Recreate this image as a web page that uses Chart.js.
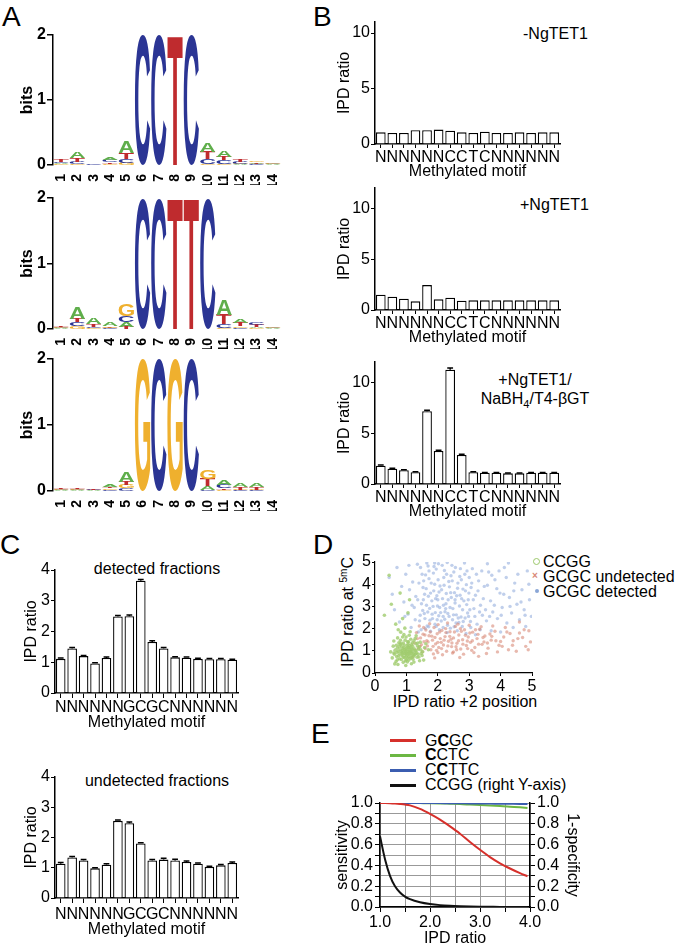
<!DOCTYPE html>
<html lang="en">
<head>
<meta charset="UTF-8" />
<title>IPD ratio figure</title>
<script src="https://cdn.jsdelivr.net/npm/chart.js@4"></script>
<style>
  body { margin: 0; background: #fff; font-family: "Liberation Sans", Arial, sans-serif; }
  #fig { position: relative; width: 680px; height: 946px; overflow: hidden; }
  canvas { position: absolute; }
  .t { position: absolute; font-size: 16px; line-height: 16px; white-space: nowrap; color: #000; }
  .lab { position: absolute; font-size: 28px; line-height: 28px; }
  .c { transform: translate(-50%, -50%); }
  .sw { position: absolute; height: 3px; width: 26px; }
</style>
</head>
<body>
<div id="fig">
  <!-- panel letters -->
  <div class="lab" style="left:2px;top:3px">A</div>
  <div class="lab" style="left:313px;top:3px">B</div>
  <div class="lab" style="left:0px;top:531px">C</div>
  <div class="lab" style="left:313px;top:531px">D</div>
  <div class="lab" style="left:311px;top:720px">E</div>

  <!-- B annotations -->
  <div class="t" style="left:523px;top:26px">-NgTET1</div>
  <div class="t" style="left:520px;top:197px">+NgTET1</div>
  <div class="t" style="left:475px;top:370px;width:120px;text-align:center;line-height:19px">+NgTET1/<br>NaBH<span style="font-size:11px;position:relative;top:4px">4</span>/T4-βGT</div>

  <!-- C titles -->
  <div class="t" style="left:57px;top:561px;width:200px;text-align:center">detected fractions</div>
  <div class="t" style="left:57px;top:773px;width:200px;text-align:center">undetected fractions</div>

  <!-- D titles and legend -->
  <div class="t c" style="left:349px;top:612px;transform:translate(-50%,-50%) rotate(-90deg)">IPD ratio at <span style="font-size:10px;position:relative;top:-6px">5m</span>C</div>
  <div class="t c" style="left:465px;top:702px">IPD ratio +2 position</div>
  <div style="position:absolute;left:533px;top:558px;width:5px;height:5px;border:1.5px solid #9cc86a;border-radius:50%"></div>
  <div style="position:absolute;left:532px;top:570px;font-size:10px;line-height:12px;color:#d98876;font-weight:bold">×</div>
  <div style="position:absolute;left:535px;top:589px;width:4px;height:4px;background:#8aa6d6;border-radius:50%"></div>
  <div class="t" style="left:543px;top:554px">CCGG</div>
  <div class="t" style="left:543px;top:569px">GCGC undetected</div>
  <div class="t" style="left:543px;top:584px">GCGC detected</div>

  <!-- E legend -->
  <div class="sw" style="left:390px;top:739px;background:#d6302b"></div>
  <div class="sw" style="left:390px;top:754px;background:#6cb743"></div>
  <div class="sw" style="left:390px;top:769px;background:#3b5db0"></div>
  <div class="sw" style="left:390px;top:784px;background:#111"></div>
  <div class="t" style="left:425px;top:733px">G<b>C</b>GC</div>
  <div class="t" style="left:425px;top:747px"><b>C</b>CTC</div>
  <div class="t" style="left:425px;top:762px">C<b>C</b>TTC</div>
  <div class="t" style="left:425px;top:777px">CCGG (right Y-axis)</div>
</div>

<script>
  // ---------- data ----------
  const positions = ['1','2','3','4','5','6','7','8','9','10','11','12','13','14'];

  // logo 1 (CCTC)
  const logo1A = [0.02,0.10,0,0.04,0.17,0,0,0,0,0.14,0.09,0.01,0.02,0.01];
  const logo1C = [0.02,0.03,0.01,0.03,0.06,2.0,2.0,0,2.0,0.07,0.05,0.03,0.01,0.01];
  const logo1G = [0.01,0.02,0,0.02,0.03,0,0,0,0,0.02,0.02,0.01,0.02,0.01];
  const logo1T = [0.03,0.06,0,0.02,0.09,0,0,2.0,0,0.11,0.06,0.04,0.01,0];
  // logo 2 (CCTTC)
  const logo2A = [0.01,0.18,0.09,0.05,0.07,0,0,0,0,0,0.23,0.06,0.02,0.01];
  const logo2C = [0.01,0.06,0.02,0.01,0.09,2.0,2.0,0,0,2.0,0.05,0.02,0.04,0.01];
  const logo2G = [0.01,0.04,0.01,0.02,0.18,0,0,0,0,0,0.02,0.02,0.01,0.01];
  const logo2T = [0.01,0.06,0.04,0.01,0.03,0,0,2.0,2.0,0,0.15,0.05,0.03,0];
  // logo 3 (GCGC)
  const logo3A = [0.01,0.01,0.01,0.04,0.16,0,0,0,0,0.05,0.07,0.06,0.05,0];
  const logo3C = [0.01,0.01,0.01,0.02,0.04,0,2.0,0,2.0,0.02,0.05,0.01,0.01,0];
  const logo3G = [0.01,0.01,0,0.02,0.05,2.0,0,2.0,0,0.13,0.02,0.01,0.01,0];
  const logo3T = [0.01,0.02,0.01,0.02,0.05,0,0,0,0,0.11,0.02,0.04,0.04,0];

  const motifCCTC = 'NNNNNNCCTCNNNNNN'.split('');
  const motifGCGC = 'NNNNNNGCGCNNNNNN'.split('');

  const bNoTet = [1.05,1.0,1.0,1.25,1.25,1.3,1.2,1.05,1.0,1.1,1.0,1.0,1.05,1.0,1.05,1.05];
  const bTet   = [1.5,1.3,1.1,0.85,2.45,1.05,1.2,0.92,0.95,0.95,0.95,0.95,0.95,0.95,0.95,0.95];
  const bTetBgt = [1.8,1.5,1.35,1.15,7.15,3.25,11.25,2.85,1.15,1.1,1.1,1.05,1.05,1.1,1.1,1.1];
  const bTetBgtErr = [0.08,0.06,0.05,0.05,0.1,0.08,0.15,0.08,0.05,0.04,0.04,0.04,0.04,0.04,0.04,0.04];

  const cDetected   = [1.11,1.45,1.2,0.96,1.14,2.49,2.5,3.65,1.66,1.45,1.16,1.15,1.11,1.1,1.1,1.08];
  const cDetErr     = [0.03,0.03,0.02,0.02,0.03,0.03,0.04,0.04,0.04,0.03,0.02,0.02,0.02,0.02,0.02,0.02];
  const cUndetected = [1.13,1.34,1.24,0.98,1.1,2.55,2.47,1.8,1.24,1.27,1.24,1.19,1.13,1.03,1.08,1.16];
  const cUndErr     = [0.04,0.03,0.03,0.02,0.03,0.03,0.04,0.03,0.03,0.04,0.04,0.03,0.03,0.02,0.03,0.03];

  // D scatter [IPD ratio +2 position, IPD ratio at 5mC]
  const ccggPts = [[0.62,0.85],[0.71,1.12],[0.78,0.64],[0.83,1.31],[0.88,0.92],[0.91,0.71],[0.95,1.05],[0.98,0.83],[1.02,1.22],[1.05,0.97],[1.08,0.58],[1.11,1.14],[1.15,0.88],[1.19,1.36],[1.23,0.76],[1.27,1.02],[1.33,0.91],[1.41,1.18],[0.67,0.52],[0.74,0.98],[0.81,1.47],[0.86,0.78],[0.93,1.26],[0.97,0.55],[1.01,0.89],[1.04,1.41],[1.07,0.73],[1.12,0.99],[1.16,1.27],[1.21,0.62],[1.25,1.09],[1.3,1.33],[1.37,0.84],[1.46,1.04],[0.58,1.21],[0.69,0.74],[0.76,1.36],[0.84,0.61],[0.89,1.09],[0.94,0.88],[0.99,1.62],[1.03,0.68],[1.06,1.16],[1.1,0.82],[1.14,1.52],[1.18,0.95],[1.24,0.49],[1.29,0.87],[1.35,1.22],[1.52,0.96],[0.64,1.03],[0.72,1.58],[0.79,0.86],[0.85,1.18],[0.9,0.48],[0.96,0.99],[1.0,0.77],[1.05,1.3],[1.09,1.04],[1.13,0.67],[1.17,1.12],[1.22,0.9],[1.28,1.55],[1.34,0.71],[1.44,1.39],[0.55,0.68],[0.6,1.44],[0.7,0.93],[0.77,1.19],[0.87,1.01],[0.92,1.73],[1.0,1.12],[1.08,0.92],[1.2,1.21],[1.26,0.82],[1.38,1.07],[1.5,0.79],[1.58,1.15],[0.82,1.84],[0.95,2.02],[1.12,1.86],[0.73,0.38],[0.98,0.34],[1.16,0.42],[0.66,2.2],[0.88,2.45],[1.05,2.71],[0.52,3.1],[0.74,1.95],[1.31,1.68],[1.62,1.32],[1.55,0.58],[0.5,0.95],[0.63,0.41],[1.42,0.55],[1.7,1.05],[0.8,3.6],[0.45,4.4],[1.1,3.3],[0.3,2.6],
    [0.87,0.85],[0.92,1.15],[0.97,0.95],[1.02,1.05],[1.06,0.86],[1.1,1.22],[1.13,0.95],[0.8,1.05],[0.75,0.78],[0.9,1.35],[1.0,0.6],[1.18,1.05],[1.2,0.8],[0.84,0.95],[0.94,0.7],[1.07,1.4],[0.68,1.25],[1.3,1.0],[1.36,1.35],[1.4,0.72],[0.96,1.48],[1.03,0.5],[1.16,0.7],[0.71,0.6],[0.88,1.62],[1.24,1.45],[1.47,0.88],[0.6,0.9],[1.09,1.7],[0.8,1.3]];
  const undetPts = [[1.25,1.35],[1.32,1.82],[1.38,1.12],[1.45,1.58],[1.51,0.95],[1.56,1.41],[1.62,1.94],[1.67,1.22],[1.72,1.68],[1.78,1.05],[1.83,1.48],[1.88,2.05],[1.93,1.31],[1.98,1.77],[2.03,1.15],[2.08,1.55],[2.13,1.92],[2.18,1.26],[2.23,1.64],[2.28,0.98],[2.34,1.43],[2.39,1.86],[2.44,1.19],[2.5,1.58],[2.56,2.1],[2.61,1.34],[2.67,1.71],[2.73,1.08],[2.79,1.5],[2.85,1.95],[2.91,1.24],[2.97,1.62],[3.04,1.38],[3.11,1.84],[3.18,1.15],[3.25,1.55],[3.33,1.97],[3.41,1.29],[3.5,1.67],[3.6,1.12],[3.7,1.48],[3.82,1.88],[3.95,1.25],[4.1,1.62],[4.25,1.05],[4.4,1.45],[4.6,1.8],[4.8,1.2],[1.41,2.12],[1.59,1.71],[1.74,2.22],[1.86,0.86],[2.01,2.18],[2.15,0.82],[2.31,2.25],[2.47,0.9],[2.64,2.2],[2.82,0.85],[3.0,2.15],[3.15,0.92],[3.38,2.08],[3.55,0.88],[3.75,2.12],[3.9,0.95],[4.15,2.05],[4.5,0.98],[4.7,1.6],[4.95,1.4],[1.48,1.28],[1.65,1.46],[1.81,1.66],[1.96,1.02],[2.11,1.38],[2.26,1.82],[2.42,1.52],[2.58,1.18],[2.75,1.88],[2.94,1.44],[3.08,1.02],[3.28,1.74],[3.47,1.4],[3.66,1.76],[4.0,1.42],[4.3,1.78],[1.2,0.72],[1.9,0.68],[2.7,0.7],[3.3,0.75],[4.6,2.3],[4.9,1.9],
    [1.35,1.55],[1.44,1.2],[1.53,1.75],[1.6,1.1],[1.69,1.4],[1.76,1.85],[1.85,1.2],[1.91,1.6],[2.0,1.38],[2.06,1.85],[2.12,1.1],[2.2,1.48],[2.25,2.0],[2.32,1.22],[2.38,1.65],[2.45,1.35],[2.53,1.85],[2.6,1.05],[2.66,1.45],[2.72,2.0],[2.8,1.3],[2.88,1.7],[2.95,1.1],[3.02,1.8],[3.1,1.45],[3.2,1.95],[3.3,1.3],[3.44,1.6],[3.58,1.35],[3.72,1.65],[3.85,1.45],[4.05,1.2],[4.2,1.85],[4.38,1.25],[4.55,1.55],[4.75,1.95],[4.88,1.05],[1.55,2.05],[2.0,0.92],[2.5,0.95]];
  const detPts = [[1.42,2.35],[1.48,3.12],[1.53,3.85],[1.57,2.68],[1.61,4.42],[1.66,2.12],[1.7,3.46],[1.74,2.91],[1.79,4.05],[1.83,2.45],[1.87,3.7],[1.91,2.2],[1.95,4.68],[1.99,3.02],[2.03,2.58],[2.07,3.92],[2.11,2.34],[2.15,3.35],[2.19,4.3],[2.23,2.76],[2.27,3.58],[2.31,2.15],[2.35,4.12],[2.39,2.95],[2.43,3.4],[2.47,2.4],[2.51,4.55],[2.55,3.15],[2.59,2.62],[2.63,3.82],[2.67,2.28],[2.71,3.5],[2.75,4.2],[2.79,2.85],[2.83,3.25],[2.87,2.48],[2.91,3.98],[2.95,2.7],[2.99,3.6],[3.04,2.32],
    [1.45,4.75],[1.52,2.82],[1.58,3.55],[1.64,3.05],[1.69,4.82],[1.75,2.38],[1.81,3.25],[1.86,4.5],[1.92,2.72],[1.97,3.48],[2.02,4.92],[2.06,2.95],[2.12,3.75],[2.17,2.55],[2.21,4.62],[2.26,3.12],[2.32,2.68],[2.37,3.88],[2.42,4.38],[2.48,2.9],[2.53,3.62],[2.58,2.25],[2.64,4.05],[2.69,3.02],[2.74,2.52],[2.8,3.78],[2.86,4.45],[2.92,3.08],[2.98,2.55],[3.06,3.85],
    [0.45,4.3],[0.55,3.55],[0.62,2.85],[0.7,4.75],[0.78,2.3],[0.85,3.9],[0.92,3.2],[0.98,4.45],[1.05,2.65],[1.1,3.75],[1.15,2.05],[1.2,4.1],[1.25,2.95],[1.3,3.45],[1.35,4.9],[1.38,1.85],[1.28,2.4],[1.18,3.05],[1.08,4.85],[0.95,2.55],
    [3.1,4.7],[3.15,2.9],[3.2,3.5],[3.25,2.2],[3.3,4.15],[3.36,3.05],[3.42,2.6],[3.48,3.9],[3.55,2.35],[3.62,4.55],[3.68,3.25],[3.75,2.75],[3.82,4.2],[3.9,2.45],[3.98,3.6],[4.05,2.95],[4.12,4.75],[4.2,2.25],[4.28,3.4],[4.35,2.7],[4.45,4.05],[4.52,3.1],[4.6,2.4],[4.68,3.75],[4.75,2.85],[4.85,4.6],[4.92,3.3],[4.98,2.55],[3.35,1.95],[3.7,1.9],[4.0,1.85],[4.4,2.05],[4.8,2.1],[3.58,4.92],[4.25,4.95],
    [1.6,2.0],[1.77,1.88],[2.05,1.95],[2.3,1.82],[2.62,1.9],[2.9,1.78],[3.2,1.72],[1.9,4.0],[2.2,3.95],[2.45,4.85],[2.72,4.7],[2.0,3.3],[2.25,2.9],[2.55,3.3],[1.85,3.0],[1.55,4.15],[2.85,4.95],[3.0,4.3],[1.72,4.6],[2.4,2.02],
    [1.36,3.3],[1.4,4.05],[1.44,2.6],[1.5,4.45],[1.54,3.3],[1.59,2.45],[1.63,3.8],[1.68,2.75],[1.72,4.25],[1.77,3.6],[1.82,2.65],[1.88,4.8],[1.93,3.35],[1.98,2.4],[2.01,4.2],[2.04,3.65],[2.09,2.72],[2.14,4.85],[2.18,3.05],[2.22,2.42],[2.28,4.45],[2.33,3.3],[2.36,2.55],[2.41,3.62],[2.46,4.15],[2.5,2.62],[2.56,4.75],[2.6,3.48],[2.65,2.48],[2.7,4.35],[2.76,3.35],[2.81,2.32],[2.88,3.7],[2.93,4.6],[2.97,3.3],[3.02,2.85],[3.08,4.05],[3.13,3.3],[3.18,2.55],[3.23,4.45],[3.28,3.7],[3.33,2.75],[3.4,4.6],[3.45,3.35],[3.52,2.85],[3.58,3.95],[3.65,2.55],[3.72,4.4],[3.8,3.05],[3.88,3.8],[3.95,4.6],[4.02,2.6],[4.1,3.55],[4.18,4.3],[4.3,3.0],[4.42,3.7],[4.55,4.45],[4.65,3.2],[4.78,2.6],[4.9,4.0],[1.47,1.95],[1.71,2.08],[1.95,2.1],[2.17,2.05],[2.52,2.08],[2.78,2.1],[3.05,2.05],[1.65,4.95],[1.9,4.95],[2.3,4.98]];

  // E curves
  const eX     = [1.0,1.1,1.2,1.3,1.4,1.5,1.6,1.8,2.0,2.2,2.4,2.6,2.8,3.0,3.2,3.4,3.6,3.8,3.95];
  const eGCGC  = [1.0,0.999,0.997,0.994,0.99,0.985,0.977,0.943,0.895,0.84,0.775,0.705,0.625,0.55,0.48,0.42,0.37,0.325,0.295];
  const eCCTC  = [1.0,1.0,1.0,1.0,1.0,1.0,1.0,0.999,0.998,0.996,0.993,0.99,0.985,0.98,0.975,0.97,0.965,0.958,0.952];
  const eCCTTC = [1.0,1.0,1.0,1.0,1.0,1.0,1.0,1.0,1.0,0.999,0.998,0.997,0.996,0.995,0.994,0.993,0.992,0.991,0.99];
  const eCCGG  = [0.68,0.46,0.3,0.2,0.14,0.1,0.075,0.045,0.028,0.018,0.012,0.008,0.005,0.003,0.002,0.001,0.001,0,0];

  // ---------- setup ----------
  Chart.defaults.font.family = '"Liberation Sans", Arial, sans-serif';
  Chart.defaults.font.size = 16;
  Chart.defaults.color = '#000';
  Chart.defaults.animation = false;
  Chart.defaults.plugins.legend.display = false;
  Chart.defaults.plugins.tooltip.enabled = false;

  const fig = document.getElementById('fig');
  const PAD = 12;

  // plot = chart area in page pixels; yW/xH/yRW = fixed axis box sizes
  function makeCanvas(plot, yW, xH, yRW) {
    const c = document.createElement('canvas');
    const left = plot.l - yW - PAD, top = plot.t - PAD;
    const w = plot.r + yRW + PAD - left, h = plot.b + xH + PAD - top;
    c.width = w; c.height = h;
    c.style.left = left + 'px'; c.style.top = top + 'px';
    c.style.width = w + 'px'; c.style.height = h + 'px';
    fig.appendChild(c);
    return c;
  }

  // sequence logo letters, stacked smallest at bottom
  const logoColors = { A: '#5fae4b', C: '#2b3594', G: '#efb02e', T: '#bf2b2e' };
  const logoLetters = {
    id: 'logoLetters',
    afterDatasetsDraw(chart) {
      const ctx = chart.ctx, xs = chart.scales.x, ys = chart.scales.y;
      const step = xs.width / chart.data.labels.length;
      ctx.save();
      ctx.font = 'bold 100px "Liberation Sans", Arial, sans-serif';
      ctx.textAlign = 'left';
      ctx.textBaseline = 'alphabetic';
      chart.data.labels.forEach((lab, i) => {
        const col = chart.data.datasets
          .map(d => ({ ch: d.label, h: d.data[i] }))
          .filter(o => o.h > 0)
          .sort((a, b) => a.h - b.h);
        let cum = 0;
        const x0 = xs.getPixelForValue(i) - step * 0.47, w = step * 0.94;
        col.forEach(o => {
          const yb = ys.getPixelForValue(cum), yt = ys.getPixelForValue(cum + o.h);
          cum += o.h;
          const m = ctx.measureText(o.ch);
          const gw = m.actualBoundingBoxLeft + m.actualBoundingBoxRight;
          const gh = m.actualBoundingBoxAscent + m.actualBoundingBoxDescent;
          ctx.save();
          ctx.translate(x0, yt);
          ctx.scale(w / gw, (yb - yt) / gh);
          ctx.fillStyle = logoColors[o.ch];
          ctx.fillText(o.ch, m.actualBoundingBoxLeft, m.actualBoundingBoxAscent);
          ctx.restore();
        });
      });
      ctx.restore();
    }
  };

  function logoChart(plot, A, C, G, T) {
    const c = makeCanvas(plot, 35, 20, 0);
    const mk = (label, data) => ({ label, data, backgroundColor: 'rgba(0,0,0,0)', categoryPercentage: 1, barPercentage: 1 });
    return new Chart(c, {
      type: 'bar',
      data: { labels: positions, datasets: [mk('A', A), mk('C', C), mk('G', G), mk('T', T)] },
      options: {
        responsive: false,
        layout: { padding: PAD },
        scales: {
          x: {
            stacked: true,
            grid: { display: false }, border: { display: false },
            ticks: { minRotation: 90, maxRotation: 90, autoSkip: false, padding: 1, font: { size: 14, weight: 'bold' } },
            afterFit(s) { s.height = 20; }
          },
          y: {
            stacked: true, min: 0, max: 2,
            ticks: { stepSize: 1, padding: 1, font: { weight: 'bold' } },
            grid: { drawOnChartArea: false, tickLength: 6, color: '#000', lineWidth: 1.5 },
            border: { color: '#000', width: 1.5 },
            title: { display: true, text: 'bits', padding: 0, font: { weight: 'bold' } },
            afterFit(s) { s.width = 35; }
          }
        }
      },
      plugins: [logoLetters]
    });
  }

  // small error bars on top of white bars
  const errorBars = {
    id: 'errorBars',
    afterDatasetsDraw(chart) {
      const ds = chart.data.datasets[0];
      if (!ds.errs) return;
      const meta = chart.getDatasetMeta(0), y = chart.scales.y, ctx = chart.ctx;
      ctx.save();
      ctx.strokeStyle = '#000';
      ctx.lineWidth = 1.5;
      meta.data.forEach((bar, i) => {
        const e = ds.errs[i];
        if (!e) return;
        const top = y.getPixelForValue(ds.data[i] + e), bot = y.getPixelForValue(ds.data[i]);
        const hw = bar.width * 0.3;
        ctx.beginPath();
        ctx.moveTo(bar.x, bot); ctx.lineTo(bar.x, top);
        ctx.moveTo(bar.x - hw, top); ctx.lineTo(bar.x + hw, top);
        ctx.stroke();
      });
      ctx.restore();
    }
  };

  function barChart(plot, labels, values, errs, yMax, yStep, o) {
    const c = makeCanvas(plot, o.yW, o.xH, 0);
    return new Chart(c, {
      type: 'bar',
      data: {
        labels,
        datasets: [{ data: values, errs, backgroundColor: '#fff', borderColor: '#000', borderWidth: 1.3, barPercentage: 0.84, categoryPercentage: 1 }]
      },
      options: {
        responsive: false,
        layout: { padding: PAD },
        scales: {
          x: {
            grid: { display: true, drawOnChartArea: false, offset: false, tickLength: o.tl, color: '#000' },
            border: { color: '#000', width: 1.5 },
            ticks: { autoSkip: false, maxRotation: 0, padding: o.tp },
            title: { display: true, text: 'Methylated motif', padding: 0 },
            afterFit(s) { s.height = o.xH; }
          },
          y: {
            min: 0, max: yMax,
            ticks: { stepSize: yStep, padding: 1, autoSkip: false, includeBounds: false },
            grid: { drawOnChartArea: false, tickLength: 4, color: '#000' },
            border: { color: '#000', width: 1.5 },
            title: { display: true, text: 'IPD ratio', padding: 0 },
            afterFit(s) { s.width = o.yW; }
          }
        }
      },
      plugins: [errorBars]
    });
  }

  // ---------- A ----------
  logoChart({ l: 53, t: 35, r: 281, b: 165 }, logo1A, logo1C, logo1G, logo1T);
  logoChart({ l: 53, t: 198, r: 281, b: 329 }, logo2A, logo2C, logo2G, logo2T);
  logoChart({ l: 53, t: 359, r: 281, b: 491 }, logo3A, logo3C, logo3G, logo3T);

  // ---------- B ----------
  const bOpt = { yW: 40, xH: 37, tl: 4, tp: 0 };
  barChart({ l: 375, t: 22, r: 560, b: 144 }, motifCCTC, bNoTet, null, 11, 5, bOpt);
  barChart({ l: 375, t: 188, r: 560, b: 310 }, motifCCTC, bTet, null, 12, 5, bOpt);
  barChart({ l: 375, t: 362, r: 560, b: 484 }, motifCCTC, bTetBgt, bTetBgtErr, 12, 5, bOpt);

  // ---------- C ----------
  barChart({ l: 55, t: 570, r: 238, b: 693 }, motifGCGC, cDetected, cDetErr, 4, 1, { yW: 33, xH: 39, tl: 5, tp: 0 });
  barChart({ l: 55, t: 777, r: 238, b: 898 }, motifGCGC, cUndetected, cUndErr, 4, 1, { yW: 33, xH: 41, tl: 5, tp: 2 });

  // ---------- D ----------
  const toXY = pts => pts.map(p => ({ x: p[0], y: p[1] }));
  const axisD = {
    min: 0, max: 5,
    ticks: { stepSize: 1, padding: 1, maxRotation: 0 },
    grid: { drawOnChartArea: false, tickLength: 3, color: '#000' },
    border: { color: '#000', width: 1.2 }
  };
  new Chart(makeCanvas({ l: 375, t: 562, r: 532, b: 673 }, 30, 20, 0), {
    type: 'scatter',
    data: {
      datasets: [
        { data: toXY(ccggPts), backgroundColor: 'rgba(160,204,110,0.8)', pointRadius: 1.8, borderWidth: 0 },
        { data: toXY(undetPts), backgroundColor: 'rgba(214,128,108,0.55)', pointRadius: 1.7, borderWidth: 0 },
        { data: toXY(detPts), backgroundColor: 'rgba(140,168,218,0.55)', pointRadius: 1.7, borderWidth: 0 }
      ]
    },
    options: {
      responsive: false,
      layout: { padding: PAD },
      scales: {
        x: { ...axisD, afterFit(s) { s.height = 20; } },
        y: { ...axisD, afterFit(s) { s.width = 30; } }
      }
    }
  });

  // ---------- E ----------
  const line = (data, color, axis) => ({
    data: eX.map((x, i) => ({ x, y: data[i] })),
    borderColor: color, borderWidth: 2, pointRadius: 0,
    cubicInterpolationMode: 'monotone', yAxisID: axis
  });
  const yTicksE = { stepSize: 0.1, autoSkip: false, padding: 2, callback: v => Math.round(v * 10) % 2 === 0 ? v.toFixed(1) : '' };
  new Chart(makeCanvas({ l: 380, t: 803, r: 530, b: 907 }, 47, 41, 52), {
    type: 'line',
    data: {
      datasets: [
        line(eGCGC, '#d6302b', 'y'),
        line(eCCTTC, '#3b5db0', 'y'),
        line(eCCTC, '#6cb743', 'y'),
        line(eCCGG, '#111', 'y1')
      ]
    },
    options: {
      responsive: false,
      layout: { padding: PAD },
      scales: {
        x: {
          type: 'linear', min: 1, max: 4,
          ticks: { stepSize: 0.5, autoSkip: false, maxRotation: 0, minRotation: 0, padding: 1, callback: v => Number.isInteger(v) ? v.toFixed(1) : '' },
          grid: { color: '#999', tickColor: '#000', tickLength: 5 },
          border: { color: '#000', width: 1.5 },
          title: { display: true, text: 'IPD ratio', padding: 0 },
          afterFit(s) { s.height = 41; }
        },
        y: {
          min: 0, max: 1, ticks: yTicksE,
          grid: { color: '#999', tickColor: '#000', tickLength: 5 },
          border: { color: '#000', width: 1.5 },
          title: { display: true, text: 'sensitivity', padding: 0 },
          afterFit(s) { s.width = 47; }
        },
        y1: {
          position: 'right', min: 0, max: 1, ticks: yTicksE,
          grid: { drawOnChartArea: false, tickColor: '#000', tickLength: 5 },
          border: { color: '#000', width: 1.5 },
          title: { display: true, text: '1-specificity', padding: 0 },
          afterFit(s) { s.width = 52; }
        }
      }
    }
  });
</script>
</body>
</html>
